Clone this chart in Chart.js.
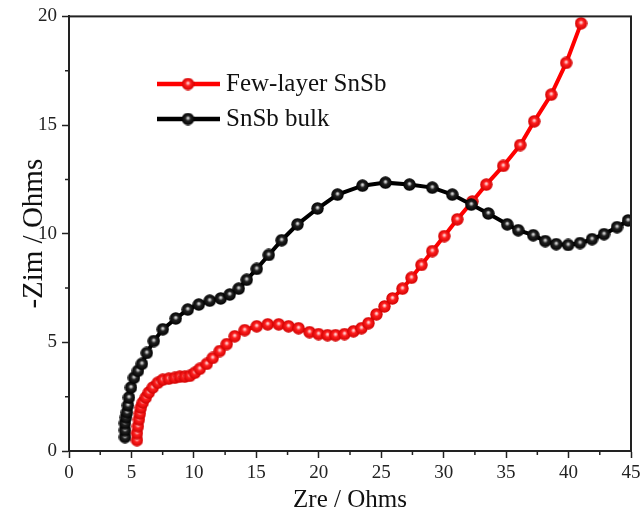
<!DOCTYPE html>
<html>
<head>
<meta charset="utf-8">
<script src="https://cdn.jsdelivr.net/npm/chart.js@4.4.1/dist/chart.umd.min.js"></script>
<style>
    html, body { margin: 0; padding: 0; background: #fff; }
    #wrap { width: 641px; height: 519px; }
</style>
</head>
<body>
<div id="wrap"><canvas id="eisChart" width="641" height="519"></canvas></div>
<script>
// ---- data ----
const FEW_LABEL = 'Few-layer SnSb';
const BULK_LABEL = 'SnSb bulk';

const zreFew = [5.44, 5.44, 5.52, 5.60, 5.68, 5.76, 5.91, 6.15, 6.39, 6.71, 7.11, 7.51, 7.99, 8.47, 8.87, 9.27, 9.67,
    10.07, 10.47, 11.03, 11.51, 12.07, 12.63, 13.27, 14.07, 15.03, 15.91, 16.79, 17.58, 18.38, 19.26, 19.98, 20.70,
    21.34, 22.06, 22.78, 23.42, 23.98, 24.62, 25.26, 25.90, 26.70, 27.42, 28.22, 29.09, 30.05, 31.09, 32.29, 33.41,
    34.77, 36.13, 37.25, 38.61, 39.81, 41.00];
const zimFew = [0.50, 0.82, 1.14, 1.46, 1.73, 2.00, 2.23, 2.46, 2.69, 2.92, 3.14, 3.28, 3.33, 3.37, 3.42, 3.42, 3.46,
    3.60, 3.78, 4.01, 4.28, 4.60, 4.92, 5.28, 5.56, 5.74, 5.83, 5.83, 5.74, 5.65, 5.47, 5.38, 5.33,
    5.33, 5.38, 5.51, 5.65, 5.88, 6.29, 6.65, 7.02, 7.47, 7.97, 8.56, 9.20, 9.89, 10.66, 11.48, 12.26,
    13.12, 14.08, 15.17, 16.40, 17.86, 19.68];

const zreBulk = [4.48, 4.48, 4.48, 4.56, 4.64, 4.72, 4.80, 4.96, 5.20, 5.52, 5.84, 6.23, 6.79, 7.51, 8.55, 9.51,
    10.39, 11.27, 12.15, 12.87, 13.59, 14.23, 15.03, 15.99, 17.03, 18.30, 19.90, 21.50, 23.50, 25.34, 27.26,
    29.09, 30.69, 32.21, 33.57, 35.09, 35.97, 37.17, 38.13, 39.01, 39.97, 40.92, 41.88, 42.84, 43.88, 44.76];
const zimBulk = [0.64, 0.96, 1.28, 1.55, 1.78, 2.10, 2.46, 2.92, 3.37, 3.69, 4.01, 4.51, 5.06, 5.60, 6.10, 6.51,
    6.74, 6.92, 7.02, 7.20, 7.47, 7.88, 8.38, 9.02, 9.70, 10.43, 11.16, 11.80, 12.21, 12.35, 12.26,
    12.12, 11.80, 11.34, 10.93, 10.43, 10.16, 9.93, 9.66, 9.52, 9.48, 9.57, 9.75, 9.98, 10.30, 10.61];

const X_TICKS = [0, 5, 10, 15, 20, 25, 30, 35, 40, 45];
const Y_TICKS = [0, 5, 10, 15, 20];

const SERIF = '"Liberation Serif", "Times New Roman", serif';

// shaded ball used as marker
function makeBall(edge, mid, glint) {
    const c = document.createElement('canvas');
    c.width = 13; c.height = 13;
    const g = c.getContext('2d');
    const grad = g.createRadialGradient(6.5, 5.5, 0.5, 6.5, 6.5, 6.3);
    grad.addColorStop(0, glint);
    grad.addColorStop(0.35, mid);
    grad.addColorStop(1, edge);
    g.fillStyle = grad;
    g.beginPath();
    g.arc(6.5, 6.5, 6.2, 0, Math.PI * 2);
    g.fill();
    return c;
}
const redBall = makeBall('#d00000', '#ff2020', '#ffd8d8');
const blackBall = makeBall('#000000', '#222222', '#e0e0e0');

const toPoints = (xs, ys) => xs.map((x, i) => ({ x: x, y: ys[i] }));

const frameAndLegend = {
    id: 'frameAndLegend',
    afterDraw(chart) {
        const { ctx, chartArea: a, scales } = chart;
        ctx.save();
        // box
        ctx.strokeStyle = '#222';
        ctx.lineWidth = 2;
        ctx.strokeRect(a.left, a.top, a.right - a.left, a.bottom - a.top);
        // minor ticks
        ctx.lineWidth = 1.5;
        ctx.beginPath();
        for (let v = 2.5; v < 45; v += 5) {
            const px = scales.x.getPixelForValue(v);
            ctx.moveTo(px, a.bottom); ctx.lineTo(px, a.bottom + 4);
        }
        for (let v = 2.5; v < 20; v += 5) {
            const py = scales.y.getPixelForValue(v);
            ctx.moveTo(a.left, py); ctx.lineTo(a.left - 4, py);
        }
        ctx.stroke();

        // legend
        const rows = [
            { label: FEW_LABEL, color: '#ff0000', ball: redBall, y: 84 },
            { label: BULK_LABEL, color: '#000000', ball: blackBall, y: 119 }
        ];
        ctx.font = '25px ' + SERIF;
        ctx.textBaseline = 'middle';
        rows.forEach(r => {
            ctx.strokeStyle = r.color;
            ctx.lineWidth = 4.5;
            ctx.beginPath();
            ctx.moveTo(157, r.y); ctx.lineTo(220, r.y);
            ctx.stroke();
            ctx.drawImage(r.ball, 188 - 6.5, r.y - 6.5);
            ctx.fillStyle = '#111';
            ctx.fillText(r.label, 226, r.y);
        });
        ctx.restore();
    }
};

function renderEisChart() {
    const ctx = document.getElementById('eisChart');

    new Chart(ctx, {
        type: 'scatter',
        data: {
            datasets: [
                {
                    label: FEW_LABEL,
                    data: toPoints(zreFew, zimFew),
                    showLine: true,
                    borderColor: '#ff0000',
                    borderWidth: 4,
                    pointStyle: redBall,
                    pointRadius: 6,
                    order: 2,
                },
                {
                    label: BULK_LABEL,
                    data: toPoints(zreBulk, zimBulk),
                    showLine: true,
                    borderColor: '#000000',
                    borderWidth: 4,
                    pointStyle: blackBall,
                    pointRadius: 6,
                    order: 1,
                }
            ]
        },
        options: {
            responsive: false,
            animation: false,
            layout: { padding: { top: 12, right: 0, left: 0, bottom: 0 } },
            plugins: {
                legend: { display: false },
                tooltip: { enabled: false }
            },
            scales: {
                x: {
                    type: 'linear',
                    min: 0,
                    max: 45,
                    afterBuildTicks: s => { s.ticks = X_TICKS.map(v => ({ value: v })); },
                    afterFit: s => { s.height = 68; s.paddingRight = 9; },
                    ticks: {
                        autoSkip: false,
                        maxRotation: 0,
                        padding: 4,
                        color: '#222',
                        font: { family: SERIF, size: 19 }
                    },
                    grid: { drawOnChartArea: false, tickLength: 7, tickColor: '#222', tickWidth: 1.5 },
                    border: { color: '#222', width: 2 },
                    title: {
                        display: true,
                        text: 'Zre / Ohms',
                        color: '#111',
                        font: { family: SERIF, size: 25, lineHeight: 1.2 },
                        padding: { top: 0, bottom: 4 }
                    }
                },
                y: {
                    type: 'linear',
                    min: 0,
                    max: 20,
                    afterBuildTicks: s => { s.ticks = Y_TICKS.map(v => ({ value: v })); },
                    afterFit: s => { s.width = 69; },
                    ticks: {
                        autoSkip: false,
                        padding: 5,
                        color: '#222',
                        font: { family: SERIF, size: 19 }
                    },
                    grid: { drawOnChartArea: false, tickLength: 7, tickColor: '#222', tickWidth: 1.5 },
                    border: { color: '#222', width: 2 },
                    title: {
                        display: true,
                        text: '-Zim / Ohms',
                        color: '#111',
                        font: { family: SERIF, size: 29, lineHeight: 1.2 },
                        padding: { top: 17, bottom: 0 }
                    }
                }
            }
        },
        plugins: [frameAndLegend]
    });
}

renderEisChart();
</script>
</body>
</html>
